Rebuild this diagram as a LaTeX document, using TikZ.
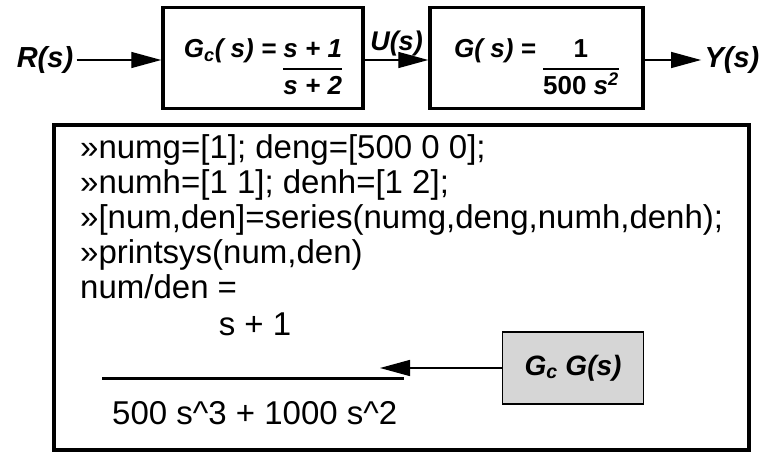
\documentclass[tikz,border=0pt]{standalone}
\usepackage{fontspec}
\setmainfont{Liberation Sans}
\usetikzlibrary{arrows.meta,positioning}

% numerator on the text baseline, bar and denominator below it
\newcommand{\tf}[2]{{\setlength\arrayrulewidth{2pt}\begin{tabular}[t]{@{}c@{}}#1\\\noalign{\vskip1pt}\hline\noalign{\vskip3pt}#2\end{tabular}}}
\tikzset{
  blk/.style={draw,line width=3.5pt,minimum width=200pt,minimum height=101pt,inner sep=2pt,text height=40pt,text depth=40pt,font=\fontsize{26}{30}\selectfont\bfseries\itshape},
  sig/.style={-{Triangle[length=30pt,width=16pt]},line width=1.4pt},
  lbl/.style={font=\fontsize{29}{32}\selectfont\bfseries\itshape},
  code/.style={anchor=base west,inner sep=0pt,font=\fontsize{33}{36}\selectfont},
  panel/.style={draw,line width=3.5pt,inner sep=0pt},
  shade/.style={draw,line width=1.3pt,fill=gray!32,minimum width=141pt,minimum height=72pt,font=\fontsize{28}{30}\selectfont\bfseries\itshape}
}

\begin{document}
\begin{tikzpicture}[x=1pt,y=-1pt]
\useasboundingbox (0,0) rectangle (768,452);
% block diagram
\node[lbl] (R) at (45,60) {R(s)};
\node[blk] (Gc) at (263,58) {G\textsubscript{c}( s) = \tf{s + 1}{s + 2}};
\node[blk,minimum width=213pt] (G) at (536.5,58) {G( s) = \tf{\upshape 1}{\upshape 500 \itshape s\textsuperscript{2}}};
\node[lbl] (Y) at (732,60) {Y(s)};
\draw[sig] (R) -- (R -| Gc.west);
\draw[sig] (Gc.east |- R) -- node[lbl,above=0pt,font=\fontsize{27}{30}\selectfont\bfseries\itshape] (U) {U(s)} (G.west |- R);
\draw[sig] (G.east |- Y) -- (Y);
% matlab session
\node[panel,anchor=north west,minimum width=695pt,minimum height=325pt] (panel) at (52,123) {};
\node[code] (l1) at (80,158) {»numg=[1]; deng=[500 0 0];};
\node[code] (l2) at (80,193) {»numh=[1 1]; denh=[1 2];};
\node[code] (l3) at (80,228) {»[num,den]=series(numg,deng,numh,denh);};
\node[code] (l4) at (80,263) {»printsys(num,den)};
\node[code] (l5) at (80,298) {num/den =};
\node[code,anchor=base] (num) at (255,335) {s + 1};
\coordinate (fa) at (102,378); \coordinate (fb) at (404,378);
\draw[line width=3pt] (fa) -- (fb);
\node[code] (den) at (112,424) {500 s{\char94}3 + 1000 s{\char94}2};
\node[shade] (GG) at (573,368) {G\textsubscript{c} G(s)};
\coordinate (tip) at (380,368);
\draw[sig] (GG) -- (tip);
\end{tikzpicture}
\end{document}
